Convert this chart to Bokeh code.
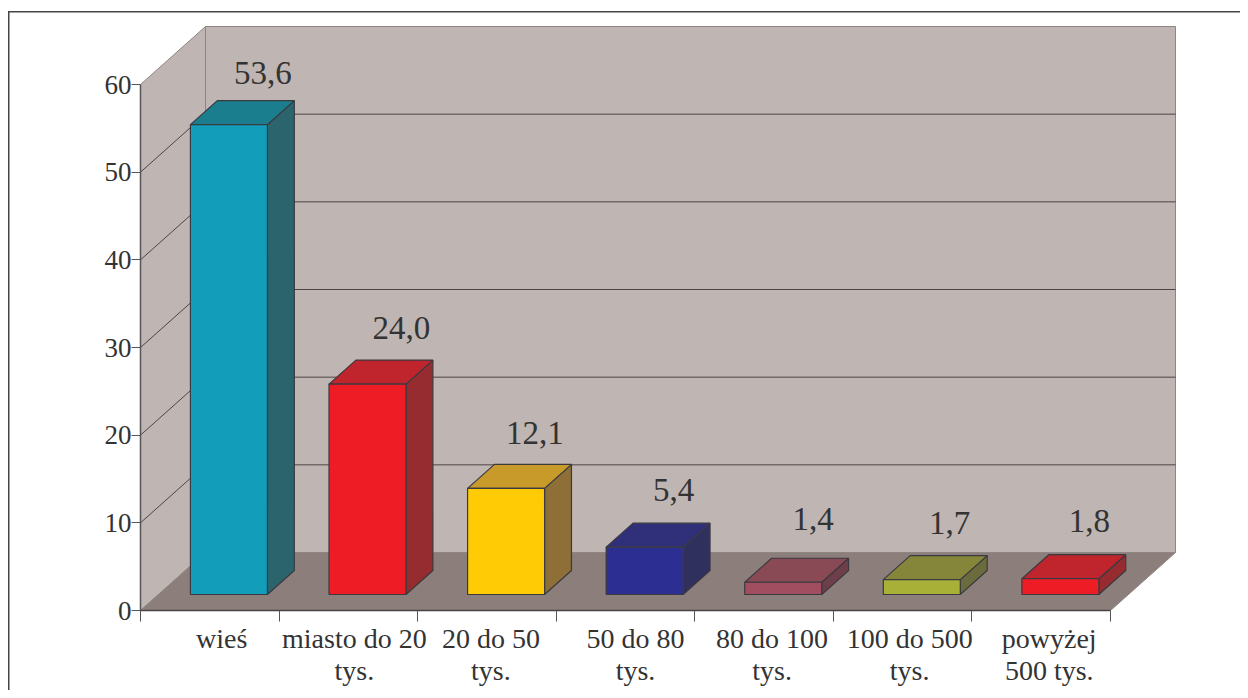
from bokeh.plotting import figure
from bokeh.embed import file_html
from bokeh.resources import INLINE
from bokeh.models import Range1d, LinearAxis, FixedTicker
from bokeh.core.properties import value

# ---- data ----
categories = ["wieś", "miasto do 20\ntys.", "20 do 50\ntys.", "50 do 80\ntys.",
              "80 do 100\ntys.", "100 do 500\ntys.", "powyżej\n500 tys."]
values = [53.6, 24.0, 12.1, 5.4, 1.4, 1.7, 1.8]
value_labels = ["53,6", "24,0", "12,1", "5,4", "1,4", "1,7", "1,8"]
y_ticks = [0, 10, 20, 30, 40, 50, 60]

front_colors = ["#129dbb", "#ee1c25", "#ffcb05", "#2c2e92", "#a14f60", "#a9b037", "#ee1c25"]
top_colors = ["#1a7e8e", "#c0242c", "#c79a2a", "#2f3079", "#8a4a55", "#86863a", "#c0242c"]
side_colors = ["#2c646e", "#962c30", "#8f6f38", "#30305f", "#6e3f4a", "#6b6b3d", "#962c30"]

# ---- layout (pixels on the canvas) ----
W, H = 1240, 690
FRAME_L, FRAME_B, FRAME_T, FRAME_R = 140, 610, 0, W
CAT_PX = 970 / 7
VAL_PX = 526 / 60
DEPTH_X = 65 / CAT_PX     # full depth of the box, category units
DEPTH_Y = 58 / VAL_PX     # full depth of the box, value units
BAR_D0, BAR_D1 = 16 / 58, 40 / 58
BAR_GAP, BAR_W = 32 / CAT_PX, 77 / CAT_PX
LABEL_DX = [7, 7, 2, 2, 3, 1, 2]
LABEL_DY = [28, 32, 31, 33, 39, 33, 34]
CAT_LABEL_SHIFT = [12, 6, 4, 10, 8, 7, 8]

p = figure(width=W, height=H, output_backend="svg", toolbar_location=None,
           x_range=Range1d(0, (FRAME_R - FRAME_L) / CAT_PX),
           y_range=Range1d(0, (FRAME_B - FRAME_T) / VAL_PX),
           x_axis_type=None, y_axis_type=None,
           min_border_left=FRAME_L, min_border_right=0, min_border_top=0,
           min_border_bottom=H - FRAME_B, outline_line_color=None,
           background_fill_color=None, border_fill_color=None)
p.grid.visible = False
# outer frame, open at the right and bottom
p.styles = {"background": "linear-gradient(#444,#444) 8px 11px/100% 1.5px no-repeat,"
                          "linear-gradient(#444,#444) 8px 11px/1.5px 100% no-repeat"}

WALL, FLOOR, EDGE = "#bfb5b3", "#8c7f7b", "#8f8583"

# walls and floor
p.patch([DEPTH_X, 7 + DEPTH_X, 7 + DEPTH_X, DEPTH_X],
        [DEPTH_Y, DEPTH_Y, 60 + DEPTH_Y, 60 + DEPTH_Y],
        fill_color=WALL, line_color=EDGE, line_width=1)
p.patch([0, DEPTH_X, DEPTH_X, 0], [0, DEPTH_Y, 60 + DEPTH_Y, 60],
        fill_color=WALL, line_color=EDGE, line_width=1)
p.patch([0, 7, 7 + DEPTH_X, DEPTH_X], [0, 0, DEPTH_Y, DEPTH_Y],
        fill_color=FLOOR, line_color=EDGE, line_width=1)

# gridlines
gx, gy = [], []
for t in y_ticks[1:-1]:
    gx.append([0, DEPTH_X, 7 + DEPTH_X])
    gy.append([t, t + DEPTH_Y, t + DEPTH_Y])
p.multi_line(gx, gy, line_color="#4e4443", line_width=1)

# bars
for i, v in enumerate(values):
    x0 = i + BAR_GAP + BAR_D0 * DEPTH_X
    x1 = x0 + BAR_W
    dx = (BAR_D1 - BAR_D0) * DEPTH_X
    y0 = BAR_D0 * DEPTH_Y
    y1 = y0 + v
    dy = (BAR_D1 - BAR_D0) * DEPTH_Y
    outline = "#3a3a40"
    p.patch([x1, x1 + dx, x1 + dx, x1], [y0, y0 + dy, y1 + dy, y1],
            fill_color=side_colors[i], line_color=outline, line_width=1.2)
    p.patch([x0, x1, x1 + dx, x0 + dx], [y1, y1, y1 + dy, y1 + dy],
            fill_color=top_colors[i], line_color=outline, line_width=1.2)
    p.patch([x0, x1, x1, x0], [y0, y0, y1, y1],
            fill_color=front_colors[i], line_color=outline, line_width=1.2)
    p.text([x1 + dx + LABEL_DX[i] / CAT_PX - BAR_W / 2], [y1 + dy + LABEL_DY[i] / VAL_PX],
           text=[value_labels[i]], text_font=value("Liberation Serif"), text_font_size="33px",
           text_color="#333333", text_align="center", text_baseline="alphabetic")

# value axis
ya = LinearAxis(ticker=FixedTicker(ticks=y_ticks), bounds=(0, 60),
                axis_line_color="#555555", axis_line_width=1.5,
                major_tick_line_color="#555555", major_tick_line_width=1,
                major_tick_in=0, major_tick_out=9, minor_tick_line_color=None,
                major_label_standoff=0,
                major_label_text_font="Liberation Serif", major_label_text_font_size="27px",
                major_label_text_color="#333333")
p.add_layout(ya, "left")

# category tick marks
xa = LinearAxis(ticker=FixedTicker(ticks=list(range(8))), bounds=(0, 7),
                axis_line_color="#444444", axis_line_width=1.5,
                major_tick_line_color="#555555", major_tick_line_width=1,
                major_tick_in=0, major_tick_out=11, minor_tick_line_color=None,
                major_label_text_font_size="0px", major_label_standoff=0)
xa.major_label_overrides = {i: "" for i in range(8)}
p.add_layout(xa, "below")

# category labels
label_pos = [i + 0.5 + CAT_LABEL_SHIFT[i] / CAT_PX for i in range(len(categories))]
xl = LinearAxis(ticker=FixedTicker(ticks=label_pos), axis_line_color=None,
                major_tick_line_color=None, minor_tick_line_color=None,
                major_tick_in=0, major_tick_out=0, major_label_standoff=1,
                major_label_text_font="Liberation Serif", major_label_text_font_size="28px",
                major_label_text_color="#333333", major_label_text_line_height=1.05,
                major_label_overrides={pos: c for pos, c in zip(label_pos, categories)})
p.add_layout(xl, "below")

open("out.html", "w").write(file_html(p, INLINE))
